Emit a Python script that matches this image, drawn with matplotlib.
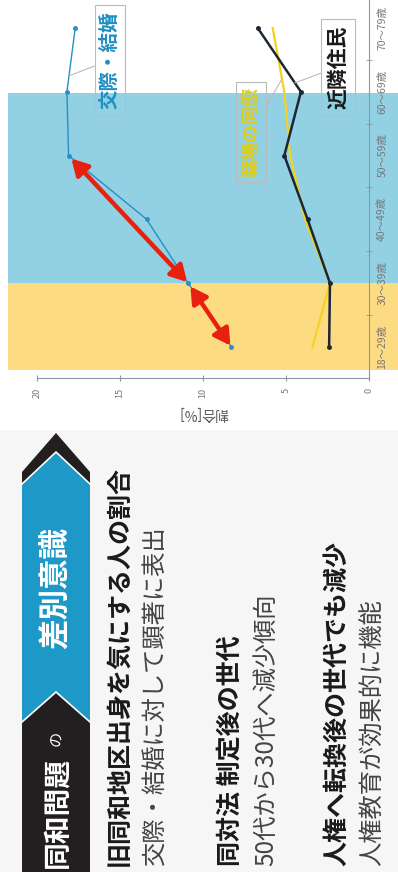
import numpy as np
import matplotlib
matplotlib.use('Agg')
import matplotlib.pyplot as plt
from matplotlib.patches import Polygon, Rectangle

plt.rcParams['font.family'] = ['Noto Sans CJK JP', 'DejaVu Sans']

ages = ['18～29歳', '30～39歳', '40～49歳', '50～59歳', '60～69歳', '70～79歳']
marriage = [8.3, 10.9, 13.4, 18.1, 18.2, 17.7]   # 交際・結婚
coworker = [3.4, 2.35, 3.85, 4.75, 5.1, 5.8]     # 職場の同僚
neighbor = [2.4, 2.35, 3.7, 5.1, 4.1, 6.7]       # 近隣住民
value_ticks = [0, 5, 10, 15, 20]

ribbon_title = '差別意識'
ribbon_sub = '同和問題'
headlines = ['旧同和地区出身を気にする人の割合', '同対法 制定後の世代', '人権へ転換後の世代でも減少']
sublines = ['交際・結婚に対して顕著に表出', '50代から30代へ減少傾向', '人権教育が効果的に機能']

W, H = 398, 872
fig = plt.figure(figsize=(W / 100, H / 100), dpi=100)
fig.patch.set_facecolor('white')

# pixel-space layer for the text panel
bg = fig.add_axes([0, 0, 1, 1])
bg.set_xlim(0, W)
bg.set_ylim(H, 0)
bg.axis('off')
bg.add_patch(Rectangle((0, 430), W, H - 430, color='#f6f6f6', lw=0))

# chevron ribbon
black = '#231f20'
teal = '#1e98c6'
bg.add_patch(Polygon([(22, H), (22, 472), (56, 433), (90, 472), (90, H)], closed=True, color=black, lw=0))
bg.add_patch(Polygon([(22, 484), (56, 452), (90, 484), (90, 722), (56, 692), (22, 722)], closed=True, color=teal, lw=0))
bg.plot([22, 56, 90], [484, 452, 484], color='white', lw=1.2)
bg.plot([22, 56, 90], [722, 692, 722], color='white', lw=1.2)
bg.text(56, 588, ribbon_title, rotation=90, ha='center', va='center', color='white',
        fontsize=22, fontweight='bold')
bg.text(58, 868, ribbon_sub, rotation=90, ha='center', va='bottom', color='white',
        fontsize=20, fontweight='bold')
bg.text(57, 746, 'の', rotation=90, ha='center', va='bottom', color='white', fontsize=11)

head_x = [119, 231, 337]
sub_x = [156, 266, 373]
for t, x in zip(headlines, head_x):
    bg.text(x, 866, t, rotation=90, ha='center', va='bottom', color='#1a1a1a',
            fontsize=18, fontweight='bold')
for t, x in zip(sublines, sub_x):
    bg.text(x, 866, t, rotation=90, ha='center', va='bottom', color='#444444', fontsize=17.5)

# chart axes (drawn rotated: values run right-to-left, ages bottom-to-top)
ax = fig.add_axes([8 / W, (H - 378) / H, (W - 8) / W, 378 / H])
ax.set_facecolor('none')
ax.set_xlim(21.75, -1.75)
ax.set_ylim(-0.49, 5.44)
y = np.arange(len(ages))

ax.axhspan(-0.36, 1.0, color='#fddb83', lw=0, zorder=0)
ax.axhspan(1.0, 3.98, color='#92d0e3', lw=0, zorder=0)

axis_c = '#8c96a0'
for s in ['top', 'left']:
    ax.spines[s].set_visible(False)
ax.spines['bottom'].set_bounds(0, 20)
ax.spines['bottom'].set_color(axis_c)
ax.spines['right'].set_position(('data', 0))
ax.spines['right'].set_color(axis_c)

ax.set_xticks(value_ticks)
ax.set_xticklabels([str(v) for v in value_ticks], rotation=90)
ax.tick_params(axis='x', direction='inout', length=4, pad=5, colors=axis_c,
               labelcolor='#777777', labelsize=6.5)
ax.yaxis.tick_right()
ax.set_yticks(y)
ax.set_yticklabels(ages, rotation=90, va='center')
ax.set_yticks(y[:-1] + 0.5, minor=True)
ax.tick_params(axis='y', which='major', length=0, pad=6, labelcolor='#777777', labelsize=7.5)
ax.tick_params(axis='y', which='minor', direction='inout', length=4, colors=axis_c)
ax.set_xlabel('割合[%]', rotation=180, fontsize=10, color='#555555', labelpad=6)

ax.plot(coworker, y, color='#f3d31c', lw=1.6, zorder=3)
ax.plot(marriage, y, color='#2b8fbf', lw=1.0, marker='o', ms=2.5, zorder=3)
ax.plot(neighbor, y, color='#1c2733', lw=1.8, marker='o', ms=2.5, zorder=4)

# red double arrows
red = '#e8200f'
arrow = dict(arrowstyle='<|-|>,head_length=0.8,head_width=0.45', lw=3.2, color=red,
             shrinkA=1, shrinkB=3, mutation_scale=12)
ax.annotate('', xy=(marriage[1], y[1]), xytext=(marriage[0], y[0]), arrowprops=arrow, zorder=5)
ax.annotate('', xy=(marriage[3], y[3]), xytext=(marriage[1], y[1]), arrowprops=arrow, zorder=5)

# series labels
box = dict(boxstyle='square,pad=0.3', fc='none', ec='#bbbbbb', lw=0.8)
lead = dict(arrowstyle='-', color='#bbbbbb', lw=0.8, shrinkA=0, shrinkB=0)
ax.annotate('交際・結婚', xy=(marriage[4] * 0.75 + marriage[5] * 0.25, 4.25), xytext=(15.6, 4.5),
            rotation=90, ha='center', va='center', color='#1f8fc2', fontsize=14,
            fontweight='bold', bbox=box, arrowprops=lead, zorder=6)
ax.annotate('職場の同僚', xy=(coworker[4] * 0.8 + coworker[5] * 0.2, 4.2), xytext=(7.1, 3.37),
            rotation=90, ha='center', va='center', color='#e3cc12', fontsize=13,
            fontweight='bold', bbox=box, arrowprops=lead, zorder=6)
ax.annotate('近隣住民', xy=(neighbor[4] * 0.86 + neighbor[5] * 0.14, 4.14), xytext=(1.87, 4.39),
            rotation=90, ha='center', va='center', color='#1a1a1a', fontsize=15,
            fontweight='bold', bbox=box, arrowprops=lead, zorder=6)

fig.savefig('out.png', dpi=100)
